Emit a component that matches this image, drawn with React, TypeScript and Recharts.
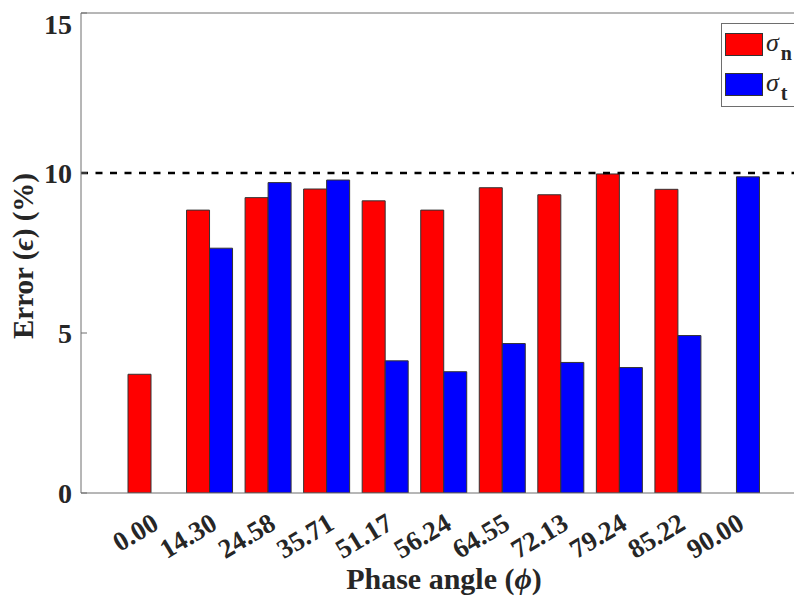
import React from 'react';
import { BarChart, Bar, XAxis, YAxis, ReferenceLine, Legend, Label } from 'recharts';

const categories = ['0.00', '14.30', '24.58', '35.71', '51.17', '56.24', '64.55', '72.13', '79.24', '85.22', '90.00'];
const sigmaN = [3.71, 8.84, 9.23, 9.5, 9.13, 8.84, 9.54, 9.32, 9.97, 9.49, 0];
const sigmaT = [0, 7.65, 9.7, 9.78, 4.13, 3.79, 4.67, 4.08, 3.92, 4.92, 9.88];
const yTicks = [0, 5, 10, 15];
const threshold = 10;

const data = categories.map((c, i) => ({ phase: c, sn: sigmaN[i], st: sigmaT[i] }));

const FONT = '"Liberation Serif", "Times New Roman", serif';
const TEXT = '#262626';
const AXIS = '#6e6e6e';

const XTick = (props: any) => {
  const { x, y, payload } = props;
  return (
    <g transform={`translate(${x + 9},${y + 33}) rotate(-31)`}>
      <text x={0} y={0} textAnchor="end" fontFamily={FONT} fontWeight="bold" fontSize={27} fill={TEXT}>
        {payload.value}
      </text>
    </g>
  );
};

const YLabel = () => {
  const cy = 248;
  const cx = 25;
  return (
    <text
      x={cx}
      y={cy}
      transform={`rotate(-90, ${cx}, ${cy})`}
      textAnchor="middle"
      fontFamily={FONT}
      fontWeight="bold"
      fontSize={29}
      fill={TEXT}
    >
      Error (<tspan fontStyle="italic">ϵ</tspan>) (%)
    </text>
  );
};

const XLabel = (props: any) => {
  const vb = props.viewBox || { x: 0, y: 0, width: 0, height: 0 };
  const cx = vb.x + vb.width / 2;
  const cy = vb.y + vb.height + 26;
  return (
    <text x={cx} y={cy} textAnchor="middle" fontFamily={FONT} fontWeight="bold" fontSize={30} fill={TEXT}>
      Phase angle (<tspan fontStyle="italic">ϕ</tspan>)
    </text>
  );
};

const LegendBox = () => (
  <div
    style={{
      width: 82,
      height: 84,
      border: `1px solid ${AXIS}`,
      background: '#fff',
      boxSizing: 'border-box',
      position: 'relative',
      fontFamily: FONT,
      color: TEXT,
    }}
  >
    <div style={{ position: 'absolute', left: 3, top: 9, width: 38, height: 23, background: '#ff0000', border: '1px solid #333', boxSizing: 'border-box' }} />
    <div style={{ position: 'absolute', left: 44, top: 4, fontSize: 26, fontStyle: 'italic', lineHeight: '30px', whiteSpace: 'nowrap' }}>
      σ<span style={{ fontStyle: 'normal', fontWeight: 'bold', fontSize: 20, position: 'relative', top: 9, left: 2 }}>n</span>
    </div>
    <div style={{ position: 'absolute', left: 3, top: 49, width: 38, height: 23, background: '#0000ff', border: '1px solid #333', boxSizing: 'border-box' }} />
    <div style={{ position: 'absolute', left: 44, top: 44, fontSize: 26, fontStyle: 'italic', lineHeight: '30px', whiteSpace: 'nowrap' }}>
      σ<span style={{ fontStyle: 'normal', fontWeight: 'bold', fontSize: 20, position: 'relative', top: 9, left: 2 }}>t</span>
    </div>
  </div>
);

export default function App() {
  return (
    <div style={{ position: 'fixed', left: 0, top: 0, width: 794, height: 601, overflow: 'hidden', background: '#fff' }}>
      <div style={{ position: 'absolute', left: 8, top: 8 }}>
        <BarChart
          width={830}
          height={590}
          data={data}
          margin={{ top: 5, right: 31, bottom: 35, left: 0 }}
          barGap={0}
          barSize={23}
        >
          <XAxis
            dataKey="phase"
            padding={{ left: 41, right: 41 }}
            height={70}
            tickSize={0}
            tickLine={false}
            tick={<XTick />}
            interval={0}
            axisLine={{ stroke: AXIS, strokeWidth: 1 }}
          >
            <Label content={<XLabel />} />
          </XAxis>
          <YAxis
            width={73}
            domain={[0, 15]}
            ticks={yTicks}
            tickSize={-6}
            tickMargin={15}
            tickLine={{ stroke: AXIS }}
            axisLine={{ stroke: AXIS, strokeWidth: 1 }}
            tick={{ fontFamily: FONT, fontWeight: 'bold', fontSize: 28, fill: TEXT }}
            allowDataOverflow
          >
            <Label content={<YLabel />} />
          </YAxis>
          <ReferenceLine y={15} stroke={AXIS} strokeWidth={1} />
          <Bar dataKey="sn" name="σn" fill="#ff0000" stroke="#333" strokeWidth={1} isAnimationActive={false} />
          <Bar dataKey="st" name="σt" fill="#0000ff" stroke="#333" strokeWidth={1} isAnimationActive={false} />
          <ReferenceLine y={threshold} stroke="#000" strokeWidth={2.5} strokeDasharray="7 7.5" />
          <Legend
            layout="horizontal"
            verticalAlign="middle"
            align="center"
            content={<LegendBox />}
            wrapperStyle={{ left: 713, top: 15, width: 82, height: 84 }}
          />
        </BarChart>
      </div>
    </div>
  );
}
